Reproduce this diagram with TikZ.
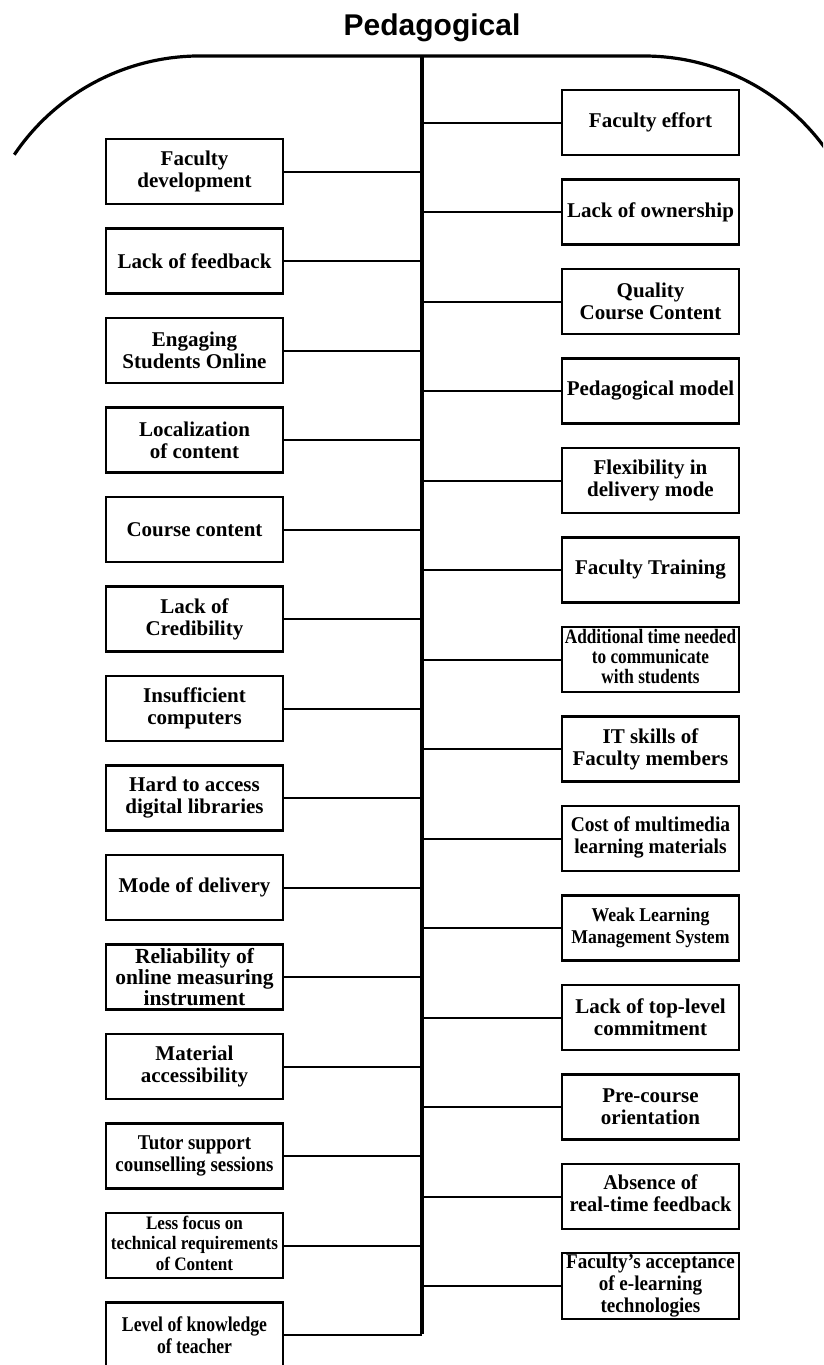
\documentclass[tikz,border=0pt]{standalone}
\usepackage{fontspec}
\usepackage{graphicx}
\setmainfont{Liberation Serif}
\newfontfamily\headfont{Liberation Sans}
% horizontally condensed multi-line label
\newcommand{\nar}[2]{\scalebox{#1}[1]{\begin{tabular}{@{}c@{}}#2\end{tabular}}}

\begin{document}
\begin{tikzpicture}[x=1pt,y=-1pt,
  box/.style={draw, line width=2.2pt, fill=white, minimum width=177pt,
    minimum height=65pt, inner sep=0pt, align=center,
    font=\bfseries\fontsize{21}{22}\selectfont},
  link/.style={line width=2pt},
  spineline/.style={line width=4.5pt},
  rim/.style={line width=3.2pt}]

\useasboundingbox (0,0) rectangle (823,1365);
\fill[white] (0,0) rectangle (823,1365);
\clip (0,0) rectangle (823,1365);

% heading
\node[anchor=base, inner sep=0pt, font=\headfont\bfseries\fontsize{30}{32}\selectfont]
  (title) at (432,35) {Pedagogical};

% rounded rim and central spine
\coordinate (spinetop) at (422,56);
\coordinate (spinebot) at (422,1335);
\draw[rim] (14.3,154.7) arc[start angle=214, end angle=270, radius=224]
  -- (644,56) arc[start angle=270, end angle=326, radius=224];
\draw[spineline] (spinetop) -- ([yshift=1pt]spinebot);

% left column
\node[box] (L1)  at (194.5,171.5)  {Faculty\\development};
\node[box] (L2)  at (194.5,261)    {Lack of feedback};
\node[box] (L3)  at (194.5,350.5)  {Engaging\\Students Online};
\node[box] (L4)  at (194.5,440)    {Localization\\of content};
\node[box] (L5)  at (194.5,529.5)  {Course content};
\node[box] (L6)  at (194.5,619)    {Lack of\\Credibility};
\node[box] (L7)  at (194.5,708.5)  {Insufficient\\computers};
\node[box] (L8)  at (194.5,798)    {Hard to access\\digital libraries};
\node[box] (L9)  at (194.5,887.5)  {Mode of delivery};
\node[box, font=\bfseries\fontsize{21.5}{18.5}\selectfont]
           (L10) at (194.5,977)    {Reliability of\\online measuring\\instrument};
\node[box] (L11) at (194.5,1066.5) {Material\\accessibility};
\node[box] (L12) at (194.5,1156)   {\nar{0.9}{Tutor support\\counselling sessions}};
\node[box, font=\bfseries\fontsize{19}{20.5}\selectfont]
           (L13) at (194.5,1245.5) {\nar{0.9}{Less focus on\\technical requirements\\of Content}};
\node[box] (L14) at (194.5,1335)   {\raisebox{-3pt}[\height][\depth]{\nar{0.84}{Level of knowledge\\of teacher}}};

% right column
\node[box] (R1)  at (650.5,122.5)  {Faculty effort};
\node[box] (R2)  at (650.5,212)    {Lack of ownership};
\node[box] (R3)  at (650.5,301.5)  {Quality\\Course Content};
\node[box] (R4)  at (650.5,391)    {Pedagogical model};
\node[box] (R5)  at (650.5,480.5)  {Flexibility in\\delivery mode};
\node[box] (R6)  at (650.5,570)    {Faculty Training};
\node[box, font=\bfseries\fontsize{20.5}{19}\selectfont]
           (R7)  at (650.5,659.5)  {\nar{0.84}{Additional time needed\\to communicate\\with students}};
\node[box] (R8)  at (650.5,749)    {IT skills of\\Faculty members};
\node[box] (R9)  at (650.5,838.5)  {\nar{0.93}{Cost of multimedia\\learning materials}};
\node[box, font=\bfseries\fontsize{19.5}{22}\selectfont]
           (R10) at (650.5,928)    {\nar{0.91}{Weak Learning\\Management System}};
\node[box] (R11) at (650.5,1017.5) {Lack of top-level\\commitment};
\node[box] (R12) at (650.5,1107)   {Pre-course\\orientation};
\node[box] (R13) at (650.5,1196.5) {\nar{0.97}{Absence of\\real-time feedback}};
\node[box] (R14) at (650.5,1286)   {\nar{0.91}{Faculty’s acceptance\\of e-learning\\technologies}};

% connectors to the spine
\foreach \n in {L1,L2,L3,L4,L5,L6,L7,L8,L9,L10,L11,L12,L13,L14}
  \draw[link] (\n.east) -- (\n.east -| spinetop);
\foreach \n in {R1,R2,R3,R4,R5,R6,R7,R8,R9,R10,R11,R12,R13,R14}
  \draw[link] (\n.west) -- (\n.west -| spinetop);

\end{tikzpicture}
\end{document}
